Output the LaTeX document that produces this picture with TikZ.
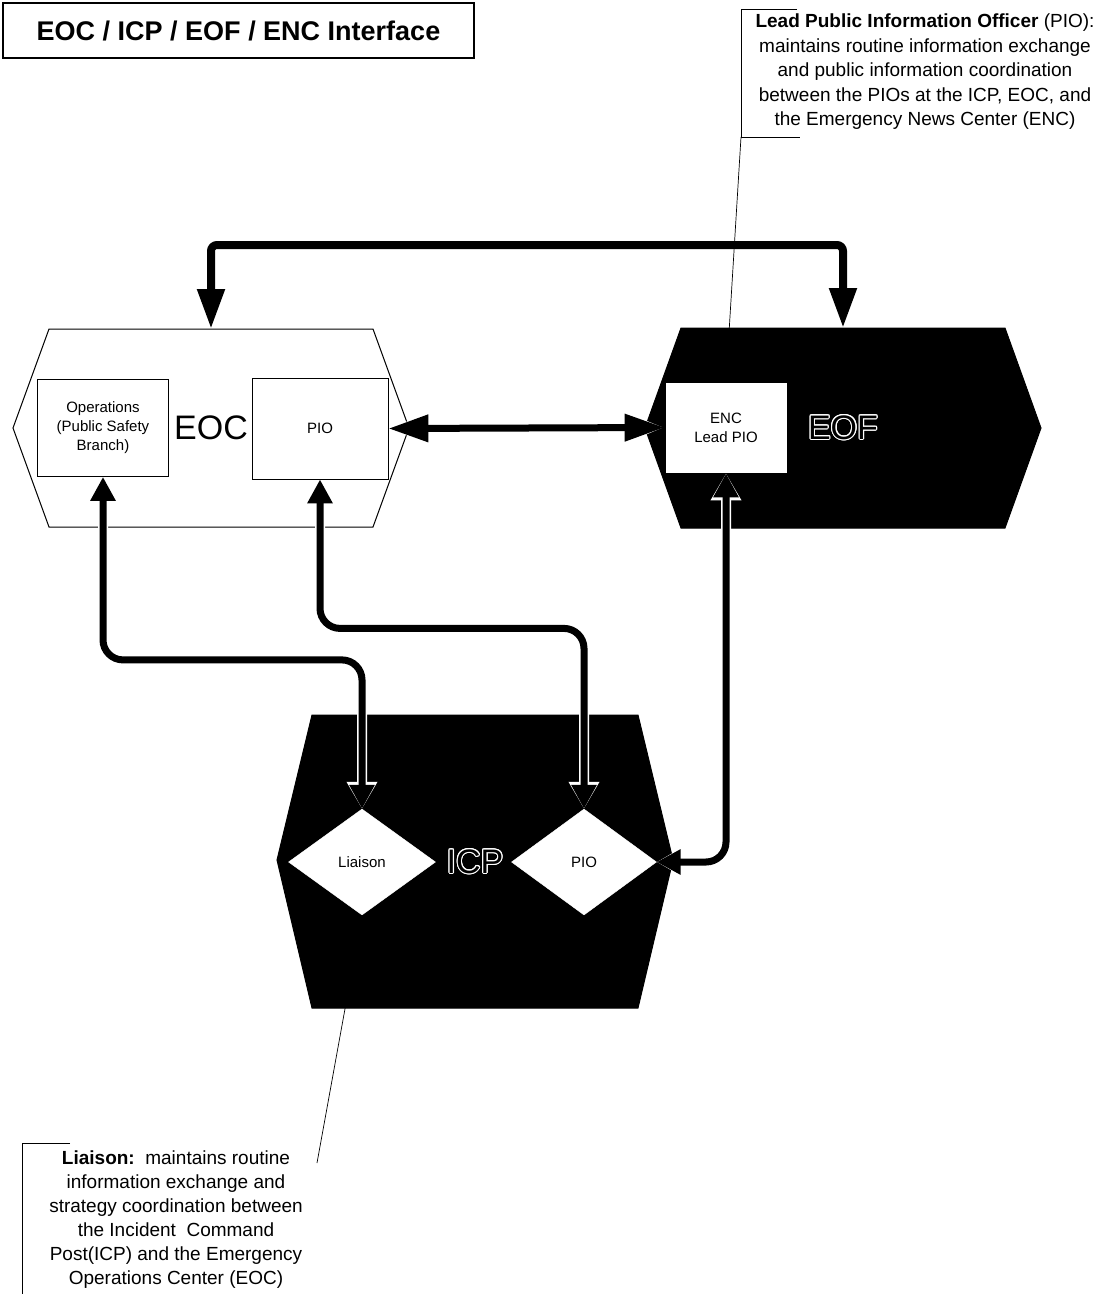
\documentclass[tikz,border=0pt]{standalone}
\usepackage{fontspec}
\setmainfont{Liberation Sans}
\usepackage{contour}
\contourlength{1.1pt}
\usetikzlibrary{arrows.meta,shapes.geometric}

\tikzset{
	box/.style	= {draw, fill=white, line width=0.8pt, align=center, inner sep=0pt, font=\fontsize{15}{19}\selectfont},
	gem/.style	= {diamond, draw=white, fill=white, aspect=1.4, inner sep=0pt, font=\fontsize{15}{19}\selectfont},
	hub/.style	= {inner sep=0pt, font=\fontsize{34}{40}\selectfont},
	note/.style	= {align=center, inner sep=0pt, font=\fontsize{19}{24.5}\selectfont},
	lead/.style	= {line width=0.7pt},
	link/.style	= {line width=7pt, rounded corners=20pt},
	bigtips/.style	= {{Triangle[length=40pt,width=26pt]}-{Triangle[length=40pt,width=26pt]},
		preaction={draw=white, line width=10pt, {Triangle[length=43pt,width=31pt]}-{Triangle[length=43pt,width=31pt]}}},
	smalltips/.style	= {{Triangle[length=24pt,width=24pt]}-{Triangle[length=24pt,width=24pt]},
		preaction={draw=white, line width=10pt, {Triangle[length=27pt,width=29pt]}-{Triangle[length=27pt,width=29pt]}}}
}

\begin{document}
\begin{tikzpicture}[x=1pt, y=-1pt]
	\fill[white] (0,0) rectangle (1114,1294);
	\useasboundingbox (0,0) rectangle (1114,1294);

	% title
	\node (title) at (238.5,30.5)	[draw, line width=1.2pt, minimum width=471pt, minimum height=55pt, font=\bfseries\fontsize{27}{32}\selectfont]	{EOC / ICP / EOF / ENC Interface};

	% the three centres
	\draw[line width=1pt, fill=white] (13,428) -- (49,329) -- (373,329) -- (409,428) -- (373,527) -- (49,527) -- cycle;
	\draw[line width=1pt, fill=black] (645,428) -- (681,328) -- (1005,328) -- (1041,428) -- (1005,528) -- (681,528) -- cycle;
	\draw[line width=1pt, fill=black] (277,860) -- (312,715) -- (638,715) -- (673,860) -- (638,1008) -- (312,1008) -- cycle;

	\node (EOC) at (211,428)	[hub]	{EOC};
	\node (EOF) at (843,428)	[hub]	{\contour{white}{EOF}};
	\node (ICP) at (475,862)	[hub]	{\contour{white}{ICP}};

	\coordinate (EOCtop) at (211,329);
	\coordinate (EOFtop) at (843,328);
	\coordinate (bar) at (527,245);

	\node (ops) at (103,428)	[box, minimum width=131pt, minimum height=97pt]	{Operations\\(Public Safety\\Branch)};
	\node (eocPIO) at (320,428.5)	[box, minimum width=136pt, minimum height=101pt]	{PIO};
	\node (ENC) at (726,427.5)	[box, minimum width=122pt, minimum height=91pt]	{ENC\\Lead PIO};
	\node (liaison) at (362,862)	[gem, minimum width=147pt, minimum height=106pt]	{Liaison};
	\node (icpPIO) at (584,862)	[gem, minimum width=145pt, minimum height=106pt]	{PIO};

	% connectors
	\draw[link, line width=8pt, rounded corners=6pt, bigtips] (EOCtop) |- (bar) -| (EOFtop);
	\draw[link, bigtips] (eocPIO.east) -- (ENC.west);
	\draw[link, smalltips] (ops.south) -- ++(0,183) -| (liaison.north);
	\draw[link, smalltips] (eocPIO.south) -- ++(0,149) -| (icpPIO.north);
	\draw[link, smalltips] (ENC.south) |- (icpPIO.east);

	% callouts
	\node (leadNote) at (925,72)	[note]	{\textbf{Lead Public Information Officer} (PIO):\\maintains routine information exchange\\and public information coordination\\between the PIOs at the ICP, EOC, and\\the Emergency News Center (ENC)};
	\coordinate (leadPin) at (741,137);
	\draw[lead] (797,9) -- (741,9) -- (leadPin) -- (800,137);
	\draw[lead] (leadPin) -- (ENC.north);

	\node (liaisonNote) at (176,1220)	[note, font=\fontsize{19}{24}\selectfont]	{\textbf{Liaison:}\ \ maintains routine\\information exchange and\\strategy coordination between\\the Incident\ \ Command\\Post(ICP) and the Emergency\\Operations Center (EOC)};
	\coordinate (liaisonPin) at (317,1163);
	\draw[lead] (70,1143) -- (22,1143) -- (22,1294);
	\draw[lead] (liaison.south) -- (liaisonPin);
\end{tikzpicture}
\end{document}
